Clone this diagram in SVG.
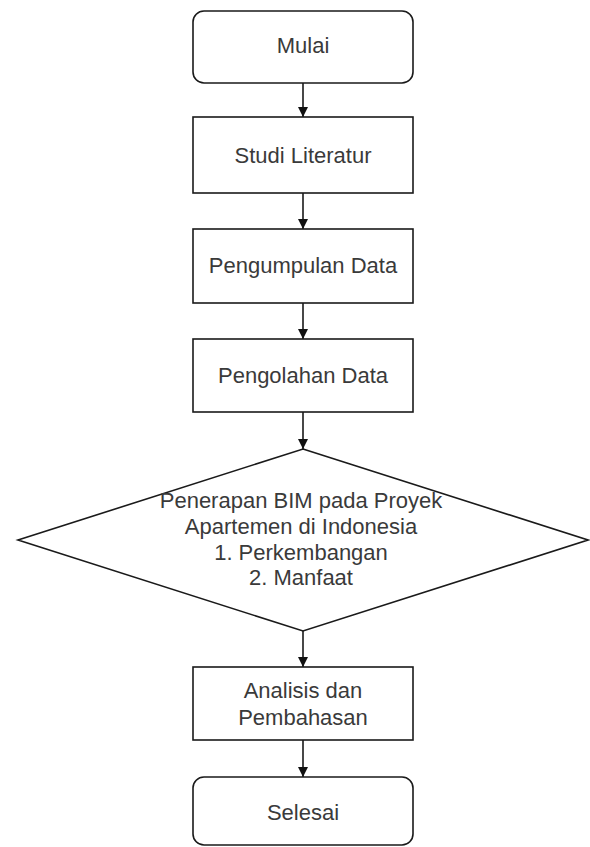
<svg xmlns="http://www.w3.org/2000/svg" width="590" height="847" viewBox="0 0 590 847">
<style>
.box{fill:#fff;stroke:#1a1a1a;stroke-width:1.6}
.t{font-family:"Liberation Sans",Arial,sans-serif;font-size:22px;fill:#3a3a3a;text-anchor:middle}
.c{stroke:#1a1a1a;stroke-width:1.6;fill:none}
</style>
<defs>
<marker id="ah" viewBox="0 0 10 10" refX="10" refY="5" markerWidth="10" markerHeight="10" markerUnits="userSpaceOnUse" orient="auto">
<path d="M0,0 L10,5 L0,10 Z" fill="#111"/>
</marker>
</defs>
<rect width="590" height="847" fill="#fff"/>
<g id="connectors">
<line class="c" x1="303" y1="83" x2="303" y2="117" marker-end="url(#ah)"/>
<line class="c" x1="303" y1="193" x2="303" y2="229" marker-end="url(#ah)"/>
<line class="c" x1="303" y1="303" x2="303" y2="339" marker-end="url(#ah)"/>
<line class="c" x1="303" y1="412" x2="303" y2="449" marker-end="url(#ah)"/>
<line class="c" x1="303" y1="631" x2="303" y2="667" marker-end="url(#ah)"/>
<line class="c" x1="303" y1="740" x2="303" y2="777" marker-end="url(#ah)"/>
</g>
<g id="mulai">
<rect class="box" x="193" y="11" width="220" height="72" rx="11"/>
<text class="t" x="303" y="53">Mulai</text>
</g>
<g id="studi">
<rect class="box" x="193" y="117" width="220" height="76"/>
<text class="t" x="303" y="163">Studi Literatur</text>
</g>
<g id="pengumpulan">
<rect class="box" x="193" y="229" width="220" height="74"/>
<text class="t" x="303" y="273">Pengumpulan Data</text>
</g>
<g id="pengolahan">
<rect class="box" x="193" y="339" width="220" height="73"/>
<text class="t" x="303" y="383">Pengolahan Data</text>
</g>
<g id="penerapan">
<polygon class="box" points="303,449 588,540 303,631 18,540"/>
<text class="t" x="301" y="508">Penerapan BIM pada Proyek</text>
<text class="t" x="301" y="534">Apartemen di Indonesia</text>
<text class="t" x="301" y="560">1. Perkembangan</text>
<text class="t" x="301" y="585">2. Manfaat</text>
</g>
<g id="analisis">
<rect class="box" x="193" y="667" width="220" height="73"/>
<text class="t" x="303" y="698">Analisis dan</text>
<text class="t" x="303" y="725">Pembahasan</text>
</g>
<g id="selesai">
<rect class="box" x="193" y="777" width="220" height="68" rx="11"/>
<text class="t" x="303" y="820">Selesai</text>
</g>
</svg>
